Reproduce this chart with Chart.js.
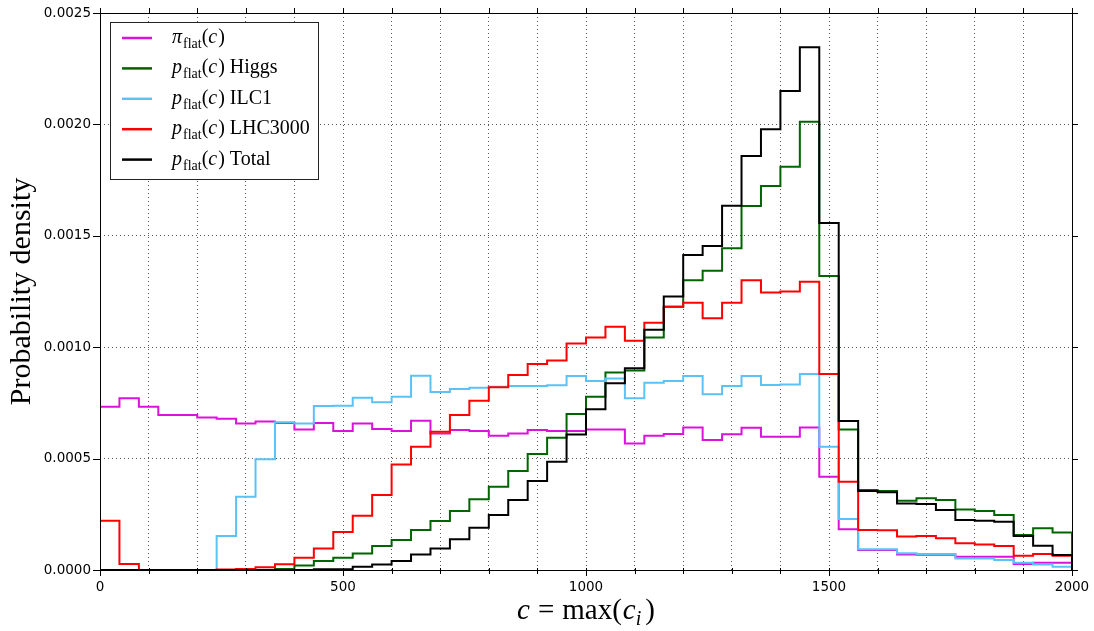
<!DOCTYPE html>
<html>
<head>
<meta charset="utf-8">
<title>Probability density of c = max(c_i)</title>
<script src="https://cdn.jsdelivr.net/npm/chart.js@4.4.0/dist/chart.umd.min.js"></script>
<style>
    html, body { margin: 0; padding: 0; background: #fff; }
    #wrap { width: 1094px; height: 631px; }
</style>
</head>
<body>
<div id="wrap"><canvas id="chart" width="1094" height="631"></canvas></div>
<script>
// Bin edges of the histograms (width 40)
const binEdges = [0, 40, 80, 120, 160, 200, 240, 280, 320, 360,
    400, 440, 480, 520, 560, 600, 640, 680, 720, 760,
    800, 840, 880, 920, 960, 1000, 1040, 1080, 1120, 1160,
    1200, 1240, 1280, 1320, 1360, 1400, 1440, 1480, 1520, 1560,
    1600, 1640, 1680, 1720, 1760, 1800, 1840, 1880, 1920, 1960, 2000];

// Density per bin
const piFlat = [0.000733, 0.000771, 0.000733, 0.000696, 0.000696, 0.000685, 0.000679, 0.000657, 0.000667, 0.000660,
    0.000631, 0.000660, 0.000624, 0.000658, 0.000633, 0.000624, 0.000670, 0.000613, 0.000628, 0.000624,
    0.000603, 0.000613, 0.000628, 0.000624, 0.000624, 0.000631, 0.000631, 0.000568, 0.000603, 0.000610,
    0.000640, 0.000583, 0.000609, 0.000639, 0.000598, 0.000598, 0.000640, 0.000419, 0.000183, 0.000090,
    0.000090, 0.000070, 0.000069, 0.000069, 0.000060, 0.000060, 0.000060, 0.000027, 0.000033, 0.000033];

const higgs = [0, 0, 0, 0, 0, 0, 0, 0, 0, 0.000005,
    0.000020, 0.000040, 0.000055, 0.000074, 0.000108, 0.000135, 0.000180, 0.000220, 0.000265, 0.000317,
    0.000374, 0.000444, 0.000521, 0.000594, 0.000700, 0.000778, 0.000886, 0.000895, 0.001043, 0.001182,
    0.001300, 0.001343, 0.001444, 0.001634, 0.001723, 0.001810, 0.002012, 0.001320, 0.000631, 0.000359,
    0.000355, 0.000311, 0.000322, 0.000314, 0.000272, 0.000265, 0.000247, 0.000157, 0.000187, 0.000168];

const ilc1 = [0, 0, 0, 0, 0, 0, 0.000153, 0.000329, 0.000497, 0.000663,
    0.000658, 0.000736, 0.000737, 0.000773, 0.000753, 0.000778, 0.000872, 0.000799, 0.000812, 0.000818,
    0.000823, 0.000826, 0.000826, 0.000829, 0.000871, 0.000848, 0.000860, 0.000771, 0.000841, 0.000848,
    0.000871, 0.000789, 0.000826, 0.000871, 0.000830, 0.000833, 0.000880, 0.000553, 0.000229, 0.000093,
    0.000093, 0.000075, 0.000072, 0.000072, 0.000052, 0.000052, 0.000045, 0.000033, 0.000025, 0.000015];

const lhc3000 = [0.000221, 0.000027, 0, 0, 0, 0, 0.000002, 0.000004, 0.000012, 0.000026,
    0.000055, 0.000097, 0.000170, 0.000244, 0.000337, 0.000474, 0.000553, 0.000621, 0.000696, 0.000760,
    0.000820, 0.000875, 0.000925, 0.000940, 0.001017, 0.001043, 0.001092, 0.001029, 0.001110, 0.001182,
    0.001200, 0.001130, 0.001200, 0.001300, 0.001245, 0.001250, 0.001294, 0.000880, 0.000396, 0.000180,
    0.000178, 0.000150, 0.000153, 0.000142, 0.000120, 0.000115, 0.000108, 0.000064, 0.000072, 0.000064];

const total = [0, 0, 0, 0, 0, 0, 0, 0, 0, 0,
    0, 0.000003, 0.000003, 0.000015, 0.000025, 0.000040, 0.000070, 0.000097, 0.000138, 0.000190,
    0.000247, 0.000314, 0.000400, 0.000486, 0.000608, 0.000721, 0.000838, 0.000905, 0.001078, 0.001227,
    0.001414, 0.001454, 0.001635, 0.001858, 0.001978, 0.002150, 0.002346, 0.001557, 0.000669, 0.000355,
    0.000349, 0.000298, 0.000296, 0.000269, 0.000224, 0.000221, 0.000217, 0.000153, 0.000109, 0.000067];

const xTickLabels = ['0', '500', '1000', '1500', '2000'];
const yTickLabels = ['0.0000', '0.0005', '0.0010', '0.0015', '0.0020', '0.0025'];
const seriesNames = ['', 'Higgs', 'ILC1', 'LHC3000', 'Total'];
const seriesColors = ['#dd11dd', '#006400', '#5bc2f6', '#ff0000', '#000000'];

const serif = '"Liberation Serif", "DejaVu Serif", serif';
const sans = '"DejaVu Sans", sans-serif';

// outline of a step histogram: rise at the first edge, drop back at the last one
function stepPoints(values) {
    const pts = [{ x: binEdges[0], y: 0 }];
    values.forEach((v, i) => pts.push({ x: binEdges[i], y: v }));
    pts.push({ x: binEdges[binEdges.length - 1], y: 0 });
    return pts;
}

function makeSet(values, idx) {
    return {
        label: seriesNames[idx],
        data: stepPoints(values),
        borderColor: seriesColors[idx],
        borderWidth: 2,
        stepped: 'before',
        pointRadius: 0,
        fill: false,
        order: 4 - idx
    };
}

// draws a run of text pieces, each with its own font and baseline shift
function drawRich(ctx, parts, x, y) {
    parts.forEach(p => {
        ctx.font = p.font;
        x += p.before || 0;
        ctx.fillText(p.text, x, y + (p.dy || 0));
        x += ctx.measureText(p.text).width + (p.after || 0);
    });
    return x;
}

function richWidth(ctx, parts) {
    let w = 0;
    parts.forEach(p => {
        ctx.font = p.font;
        w += (p.before || 0) + ctx.measureText(p.text).width + (p.after || 0);
    });
    return w;
}

const legendFont = { it: 'italic 20px ' + serif, rm: '20px ' + serif, sub: '14px ' + serif };

function legendParts(idx) {
    const parts = [
        { text: idx === 0 ? 'π' : 'p', font: legendFont.it },
        { text: 'flat', font: legendFont.sub, dy: 5, before: 1 },
        { text: '(', font: legendFont.rm },
        { text: 'c', font: legendFont.it, after: 1 },
        { text: ')', font: legendFont.rm }
    ];
    if (seriesNames[idx]) parts.push({ text: ' ' + seriesNames[idx], font: legendFont.rm });
    return parts;
}

// keep the plot box fixed: no extra room for overhanging tick labels
function fixBox(size) {
    return s => {
        if (s.isHorizontal()) s.height = size; else s.width = size;
        s.paddingLeft = s.paddingRight = s.paddingTop = s.paddingBottom = 0;
    };
}

const decorations = {
    id: 'decorations',
    afterDraw(chart) {
        const ctx = chart.ctx;
        const { left, right, top, bottom } = chart.chartArea;
        const xs = chart.scales.x, ys = chart.scales.y;
        ctx.save();
        ctx.strokeStyle = '#000';
        ctx.lineWidth = 1;
        ctx.setLineDash([]);

        // axes frame
        ctx.strokeRect(Math.round(left) + 0.5, Math.round(top) + 0.5,
            Math.round(right - left), Math.round(bottom - top));

        // tick marks on all four sides
        ctx.beginPath();
        xs.ticks.forEach(t => {
            const px = Math.round(xs.getPixelForValue(t.value)) + 0.5;
            const len = t.label ? 6 : 4;
            ctx.moveTo(px, bottom - 2); ctx.lineTo(px, bottom + len);
            ctx.moveTo(px, top + 1); ctx.lineTo(px, top - 5);
        });
        ys.ticks.forEach(t => {
            const py = Math.round(ys.getPixelForValue(t.value)) + 0.5;
            ctx.moveTo(left - 7, py); ctx.lineTo(left + 1, py);
            ctx.moveTo(right, py); ctx.lineTo(right + 6, py);
        });
        ctx.stroke();

        // legend
        const bx = left + 10, by = top + 9, bw = 208, bh = 157;
        ctx.fillStyle = '#fff';
        ctx.fillRect(bx, by, bw, bh);
        ctx.strokeStyle = '#222';
        ctx.strokeRect(bx + 0.5, by + 0.5, bw, bh);
        ctx.textAlign = 'left';
        ctx.textBaseline = 'alphabetic';
        seriesColors.forEach((c, i) => {
            const ry = by + 16 + i * 30.4;
            ctx.strokeStyle = c;
            ctx.lineWidth = 2.5;
            ctx.beginPath();
            ctx.moveTo(bx + 12, ry);
            ctx.lineTo(bx + 42, ry);
            ctx.stroke();
            ctx.fillStyle = '#000';
            drawRich(ctx, legendParts(i), bx + 62, ry + 5);
        });

        // x axis title: c = max(c_i)
        ctx.fillStyle = '#000';
        const xt = [
            { text: 'c', font: 'italic 29px ' + serif, after: 8 },
            { text: '=', font: '29px ' + serif, after: 8 },
            { text: 'max(', font: '29px ' + serif, after: 1 },
            { text: 'c', font: 'italic 29px ' + serif },
            { text: 'i', font: 'italic 20px ' + serif, dy: 6, after: 4 },
            { text: ')', font: '29px ' + serif }
        ];
        const w = richWidth(ctx, xt);
        drawRich(ctx, xt, (left + right) / 2 - w / 2, 619);

        // y axis title
        ctx.translate(30, (top + bottom) / 2);
        ctx.rotate(-Math.PI / 2);
        ctx.textAlign = 'center';
        ctx.font = '30px ' + serif;
        ctx.fillText('Probability density', 0, 0);
        ctx.restore();
    }
};

const ctx = document.getElementById('chart').getContext('2d');
const chart = new Chart(ctx, {
    type: 'line',
    data: {
        datasets: [piFlat, higgs, ilc1, lhc3000, total].map(makeSet)
    },
    options: {
        responsive: false,
        animation: false,
        devicePixelRatio: 1,
        layout: { padding: { left: 0, right: 22, top: 13, bottom: 0 } },
        plugins: {
            legend: { display: false },
            tooltip: { enabled: false }
        },
        scales: {
            x: {
                type: 'linear',
                min: 0,
                max: 2000,
                afterFit: fixBox(61),
                ticks: {
                    stepSize: 100,
                    autoSkip: false,
                    maxRotation: 0,
                    padding: 9,
                    color: '#000',
                    font: { family: sans, size: 13.5 },
                    callback: v => xTickLabels.includes(String(v)) ? String(v) : ''
                },
                grid: { color: 'rgba(0,0,0,0.65)', lineWidth: 1, drawTicks: false },
                border: { display: false, dash: [1, 3] }
            },
            y: {
                min: 0,
                max: 0.0025,
                afterFit: fixBox(100),
                ticks: {
                    stepSize: 0.0005,
                    padding: 9,
                    color: '#000',
                    font: { family: sans, size: 13.5 },
                    callback: v => yTickLabels[Math.round(v / 0.0005)]
                },
                grid: { color: 'rgba(0,0,0,0.65)', lineWidth: 1, drawTicks: false },
                border: { display: false, dash: [1, 3] }
            }
        }
    },
    plugins: [decorations]
});
</script>
</body>
</html>
